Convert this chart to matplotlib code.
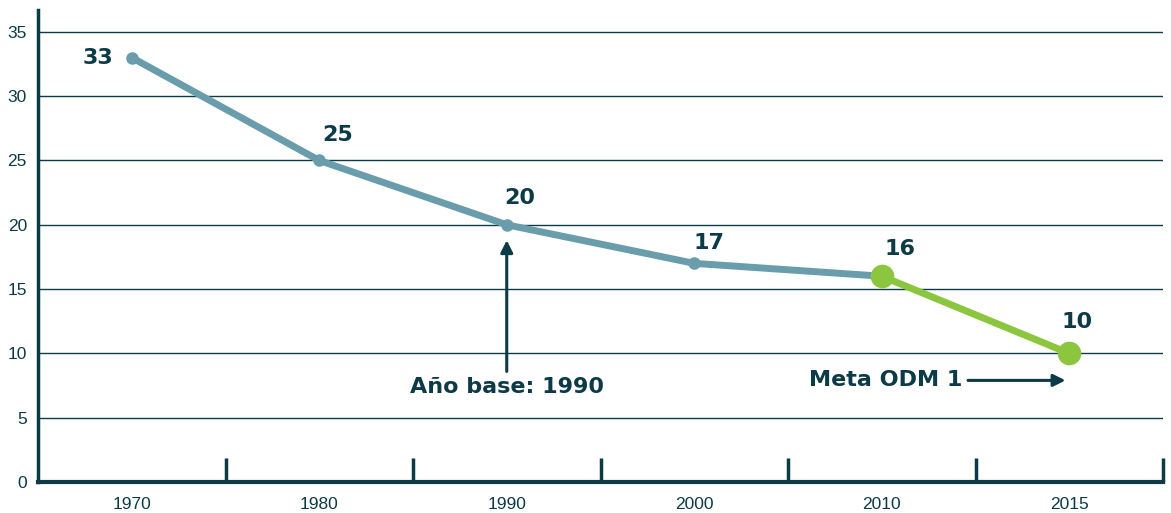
import numpy as np
import matplotlib.pyplot as plt

years = ['1970', '1980', '1990', '2000', '2010', '2015']
values = [33, 25, 20, 17, 16, 10]
y_ticks = [0, 5, 10, 15, 20, 25, 30, 35]

dark = '#0c3a47'
teal = '#6a9dab'
green = '#8cc63f'

plt.rcParams['font.family'] = ['Liberation Sans', 'DejaVu Sans']
bold_font = ['DejaVu Sans']

fig = plt.figure(figsize=(11.71, 5.13), dpi=100)
ax = fig.add_axes([38 / 1171, 31 / 513, 1125 / 1171, 472 / 513])

x = np.arange(len(years))

# gridlines
for yv in y_ticks[1:]:
    ax.axhline(yv, color=dark, lw=1.0, zorder=1)

# historical series (blue-grey) and target segment (green)
ax.plot(x[:5], values[:5], color=teal, lw=5, marker='o', markersize=8,
        solid_capstyle='round', zorder=3)
ax.plot(x[4:], values[4:], color=green, lw=5, solid_capstyle='round', zorder=4)
ax.plot(x[4:], values[4:], 'o', color=green, markersize=16, zorder=5)

# value labels (offsets from each point, label centre)
offsets = [(-0.18, 0.0), (0.1, 2.0), (0.07, 2.1),
           (0.08, 1.6), (0.1, 2.1), (0.04, 2.45)]
for xi, v, (dx, dy) in zip(x, values, offsets):
    ax.text(xi + dx, v + dy, str(v), color=dark, fontsize=16, fontweight='bold',
            family=bold_font, ha='center', va='center', zorder=6)

# annotations
ax.annotate('', xy=(2, 18.8), xytext=(2, 8.6),
            arrowprops=dict(arrowstyle='-|>', color=dark, lw=2.2,
                            mutation_scale=18, shrinkA=0, shrinkB=0))
ax.text(2, 7.4, 'Año base: 1990', color=dark, fontsize=16, fontweight='bold',
        family=bold_font, ha='center', va='center')
ax.annotate('', xy=(4.98, 7.9), xytext=(4.46, 7.9),
            arrowprops=dict(arrowstyle='-|>', color=dark, lw=2.2,
                            mutation_scale=18, shrinkA=0, shrinkB=0))
ax.text(4.43, 7.9, 'Meta ODM 1', color=dark, fontsize=16, fontweight='bold',
        family=bold_font, ha='right', va='center')

ax.set_xlim(-0.5, 5.5)
ax.set_ylim(0, 36.7)

ax.set_yticks(y_ticks)
ax.tick_params(axis='y', length=0, pad=8, labelsize=12.5, labelcolor=dark)

ax.set_xticks(x)
ax.set_xticklabels(years)
ax.set_xticks(np.arange(0.5, 5.6, 1.0), minor=True)
ax.tick_params(axis='x', which='major', length=0, pad=11, labelsize=12.5, labelcolor=dark)
ax.tick_params(axis='x', which='minor', direction='in', length=17, width=2.5, color=dark)

for side in ['top', 'right']:
    ax.spines[side].set_visible(False)
ax.spines['left'].set_color(dark)
ax.spines['left'].set_linewidth(2.5)
ax.spines['bottom'].set_color(dark)
ax.spines['bottom'].set_linewidth(3)

fig.savefig('out.png', dpi=100)
